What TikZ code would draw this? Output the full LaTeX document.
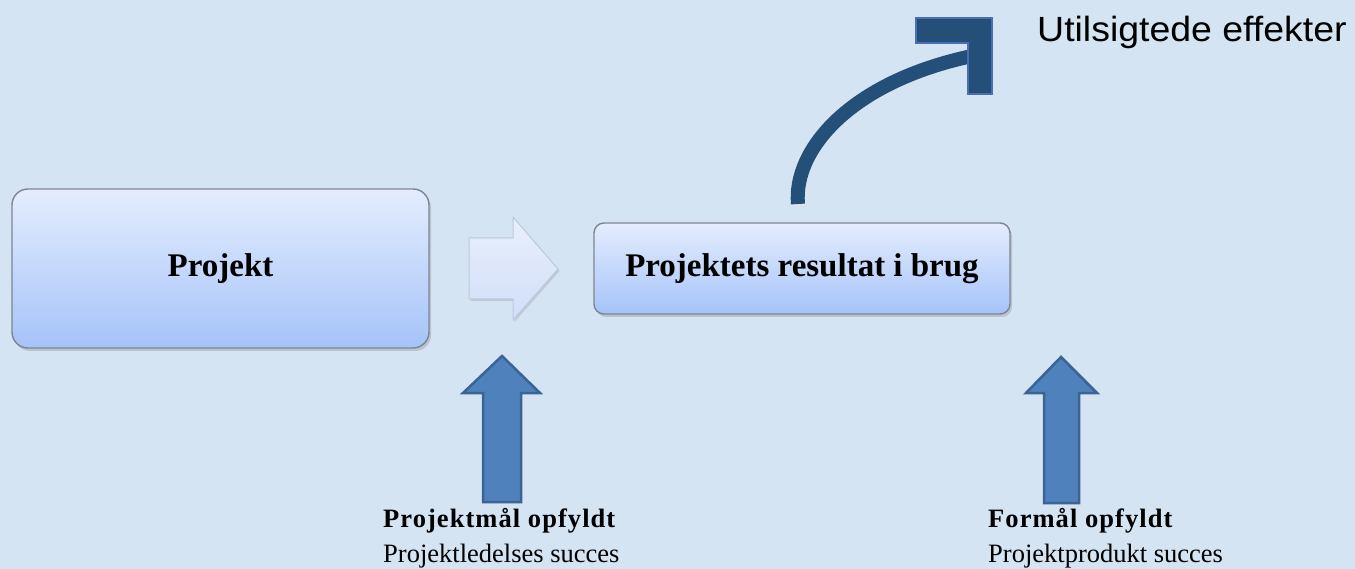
\documentclass[tikz,border=0pt]{standalone}
\usepackage{fontspec}
\usepackage{graphicx}
\setmainfont{Liberation Serif}
\newfontfamily\sansface{Liberation Sans}
\newfontfamily\spacedbold[LetterSpace=4]{Liberation Serif Bold}
\usetikzlibrary{shadows}

\definecolor{bgblue}{HTML}{D5E4F3}
\definecolor{boxtop}{HTML}{E4EDFD}
\definecolor{boxbottom}{HTML}{A5C3F9}
\definecolor{boxline}{HTML}{7D8593}
\definecolor{curveblue}{HTML}{234F78}
\definecolor{headline}{HTML}{4A6DB3}
\definecolor{uparrowfill}{HTML}{4F81BD}
\definecolor{uparrowline}{HTML}{3B6394}
\definecolor{flowtop}{HTML}{E9F0FC}
\definecolor{flowbottom}{HTML}{D0DEF8}
\definecolor{flowline}{HTML}{BCC8DC}

\tikzset{
  stagebox/.style={draw=boxline, line width=1.4pt, top color=boxtop, bottom color=boxbottom,
    inner sep=0pt, font=\fontsize{33}{38}\selectfont\bfseries,
    drop shadow={shadow xshift=2pt, shadow yshift=-3pt, opacity=0.25, fill=black!60}},
  flowarrow/.style={draw=flowline, line width=1pt, top color=flowtop, bottom color=flowbottom,
    drop shadow={shadow xshift=1.5pt, shadow yshift=-2pt, opacity=0.2, fill=black!60}},
  criterion/.style={fill=uparrowfill, draw=uparrowline, line width=2.5pt, line join=miter},
  labelbold/.style={anchor=base west, inner sep=0pt, font=\fontsize{26.5}{30}\selectfont\spacedbold},
  labelplain/.style={anchor=base west, inner sep=0pt, font=\fontsize{26.5}{30}\selectfont},
  sidenote/.style={anchor=base west, inner sep=0pt, font=\sansface\fontsize{35}{40}\selectfont}
}

\begin{document}
\begin{tikzpicture}[x=1pt, y=-1pt]
  % canvas
  \fill[bgblue] (0,0) rectangle (1355,569);
  \useasboundingbox (0,0) rectangle (1355,569);

  % the two stages
  \node[stagebox, minimum width=417pt, minimum height=159pt, rounded corners=16pt]
    (projekt) at (220.5,268.5) {Projekt};
  \node[stagebox, minimum width=416pt, minimum height=91pt, rounded corners=10pt]
    (resultat) at (802,268.5) {Projektets resultat i brug};

  % block arrow from project to result
  \draw[flowarrow] (469,238) -- (513,238) -- (513,217) -- (558,269)
    -- (513,320) -- (513,299) -- (469,299) -- cycle;

  % curved arrow towards side effects
  \coordinate (curvestart) at (798,204);
  \coordinate (curveend) at (972,56);
  \draw[curveblue, line width=14pt] (curvestart)
    .. controls (793,150) and (850,82) .. (curveend);
  \fill[curveblue, draw=headline, line width=1.5pt]
    (916,18) -- (992,18) -- (992,94) -- (968,94) -- (968,43) -- (916,43) -- cycle;
  \node[sidenote] (utilsigtede) at (1037,42) {\scalebox{1.07}[1]{Utilsigtede effekter}};

  % criterion arrows
  \draw[criterion] (483,502) -- (483,393) -- (463,393) -- (502,356)
    -- (540,393) -- (521,393) -- (521,502) -- cycle;
  \draw[criterion] (1044,503) -- (1044,393) -- (1026,393) -- (1061,357)
    -- (1097,393) -- (1079,393) -- (1079,503) -- cycle;

  % criterion labels
  \node[labelbold] (maalA) at (383,527) {Projektmål opfyldt};
  \node[labelplain] (maalAsub) at (383,562) {Projektledelses succes};
  \node[labelbold] (maalB) at (988,527) {Formål opfyldt};
  \node[labelplain] (maalBsub) at (988,562) {Projektprodukt succes};
\end{tikzpicture}
\end{document}
